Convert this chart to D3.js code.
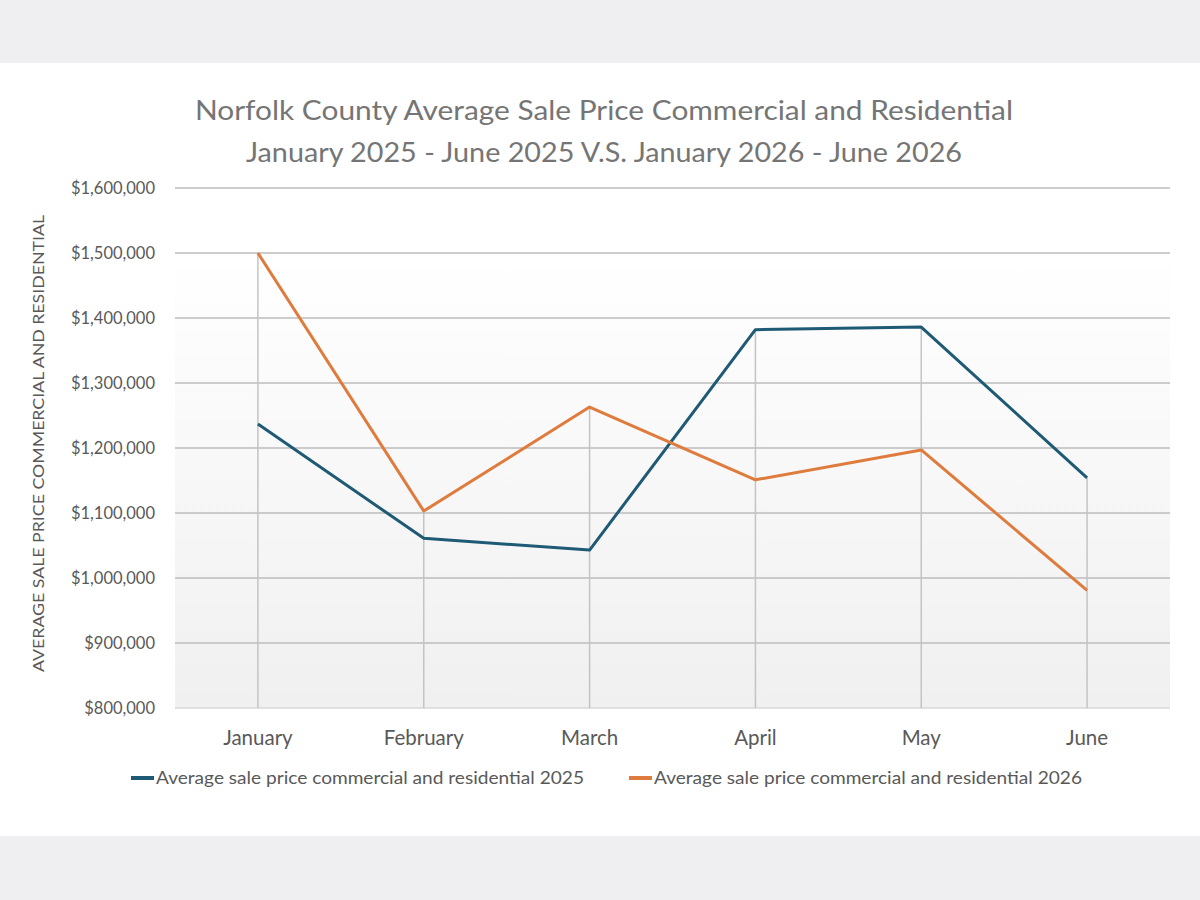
<!DOCTYPE html>
<html>
<head>
<meta charset="utf-8">
<script src="https://cdn.jsdelivr.net/npm/d3@7"></script>
<style>
  body { margin: 0; background: #efeff1; }
  svg { display: block; }
  text { font-family: Lato, "Open Sans", sans-serif; }
</style>
</head>
<body>
<svg id="chart" width="1200" height="900"></svg>
<script>
// Data
const months = ["January", "February", "March", "April", "May", "June"];
const values2025 = [1237000, 1061000, 1043000, 1382000, 1386000, 1154000];
const values2026 = [1500000, 1103000, 1263000, 1151000, 1197000, 981000];
const yTicks = [800000, 900000, 1000000, 1100000, 1200000, 1300000, 1400000, 1500000, 1600000];
const seriesNames = [
    "Average sale price commercial and residential 2025",
    "Average sale price commercial and residential 2026"
];
const titleLines = [
    "Norfolk County Average Sale Price Commercial and Residential",
    "January 2025 - June 2025 V.S. January 2026 - June 2026"
];

const COLOR_2025 = "#1f5a75";
const COLOR_2026 = "#df7b3c";
const TEXT_GREY = "#595959";

const width = 1200,
      height = 900,
      plot = { left: 175, right: 1170, top: 188, bottom: 708 };

const svg = d3.select("#chart");

// page bands: grey top/bottom, white card
svg.append("rect")
    .attr("x", 0).attr("y", 0)
    .attr("width", width).attr("height", height)
    .attr("fill", "#efeff1");
svg.append("rect")
    .attr("x", 0).attr("y", 63)
    .attr("width", width).attr("height", 773)
    .attr("fill", "#ffffff");

const x = d3.scaleBand()
    .domain(months)
    .range([plot.left, plot.right]);
const y = d3.scaleLinear()
    .domain([800000, 1600000])
    .range([plot.bottom, plot.top]);

// plot area gradient
const defs = svg.append("defs");
const grad = defs.append("linearGradient")
    .attr("id", "plotFill")
    .attr("x1", 0).attr("y1", 0).attr("x2", 0).attr("y2", 1);
grad.append("stop").attr("offset", "0%").attr("stop-color", "#ffffff");
grad.append("stop").attr("offset", "100%").attr("stop-color", "#f0f0f0");

svg.append("rect")
    .attr("x", plot.left)
    .attr("y", y(1500000))
    .attr("width", plot.right - plot.left)
    .attr("height", plot.bottom - y(1500000))
    .attr("fill", "url(#plotFill)");

// horizontal gridlines
svg.append("g")
    .selectAll("line")
    .data(yTicks.filter(d => d > 800000))
    .join("line")
    .attr("x1", plot.left).attr("x2", plot.right)
    .attr("y1", d => y(d)).attr("y2", d => y(d))
    .attr("stroke", "#bdbdbd")
    .attr("stroke-width", 1.5);

// bottom axis line
svg.append("line")
    .attr("x1", plot.left).attr("x2", plot.right)
    .attr("y1", y(800000)).attr("y2", y(800000))
    .attr("stroke", "#d9d9d9")
    .attr("stroke-width", 1.5);

// drop lines from the highest point down to the axis
const cx = m => x(m) + x.bandwidth() / 2;
svg.append("g")
    .selectAll("line")
    .data(months)
    .join("line")
    .attr("x1", cx).attr("x2", cx)
    .attr("y1", (m, i) => y(Math.max(values2025[i], values2026[i])))
    .attr("y2", y(800000))
    .attr("stroke", "#c4c4c4")
    .attr("stroke-width", 1.5);

// y tick labels
const fmt = d3.format("$,");
svg.append("g")
    .selectAll("text")
    .data(yTicks)
    .join("text")
    .attr("x", 155)
    .attr("y", d => y(d))
    .attr("dy", "0.35em")
    .attr("text-anchor", "end")
    .attr("fill", TEXT_GREY)
    .attr("font-size", 16.5)
    .text(d => fmt(d));

// x labels
svg.append("g")
    .selectAll("text")
    .data(months)
    .join("text")
    .attr("x", cx)
    .attr("y", 745)
    .attr("text-anchor", "middle")
    .attr("fill", TEXT_GREY)
    .attr("font-size", 20.5)
    .text(d => d);

// y axis title
svg.append("text")
    .attr("transform", `translate(44, ${(215 + 672) / 2}) rotate(-90)`)
    .attr("text-anchor", "middle")
    .attr("fill", TEXT_GREY)
    .attr("font-size", 16)
    .attr("textLength", 457)
    .attr("lengthAdjust", "spacingAndGlyphs")
    .text("AVERAGE SALE PRICE COMMERCIAL AND RESIDENTIAL");

// title
svg.append("g")
    .selectAll("text")
    .data(titleLines)
    .join("text")
    .attr("x", 604)
    .attr("y", (d, i) => 120 + i * 42)
    .attr("text-anchor", "middle")
    .attr("fill", "#757575")
    .attr("font-size", 27)
    .attr("textLength", (d, i) => i === 0 ? 818 : 716)
    .attr("lengthAdjust", "spacingAndGlyphs")
    .text(d => d);

// lines
const line = d3.line()
    .x((d, i) => cx(months[i]))
    .y(d => y(d));

[[values2025, COLOR_2025], [values2026, COLOR_2026]].forEach(([vals, color]) => {
    svg.append("path")
        .datum(vals)
        .attr("fill", "none")
        .attr("stroke", color)
        .attr("stroke-width", 3)
        .attr("stroke-linejoin", "round")
        .attr("d", line);
});

// legend
const legend = [
    { name: seriesNames[0], color: COLOR_2025, x: 131, len: 428 },
    { name: seriesNames[1], color: COLOR_2026, x: 629, len: 428 }
];
const lg = svg.append("g")
    .selectAll("g")
    .data(legend)
    .join("g")
    .attr("transform", d => `translate(${d.x}, 778)`);
lg.append("line")
    .attr("x1", 0).attr("x2", 23)
    .attr("y1", 0).attr("y2", 0)
    .attr("stroke", d => d.color)
    .attr("stroke-width", 4);
lg.append("text")
    .attr("x", 25)
    .attr("dy", "0.35em")
    .attr("fill", TEXT_GREY)
    .attr("font-size", 18)
    .attr("textLength", d => d.len)
    .attr("lengthAdjust", "spacingAndGlyphs")
    .text(d => d.name);
</script>
</body>
</html>
